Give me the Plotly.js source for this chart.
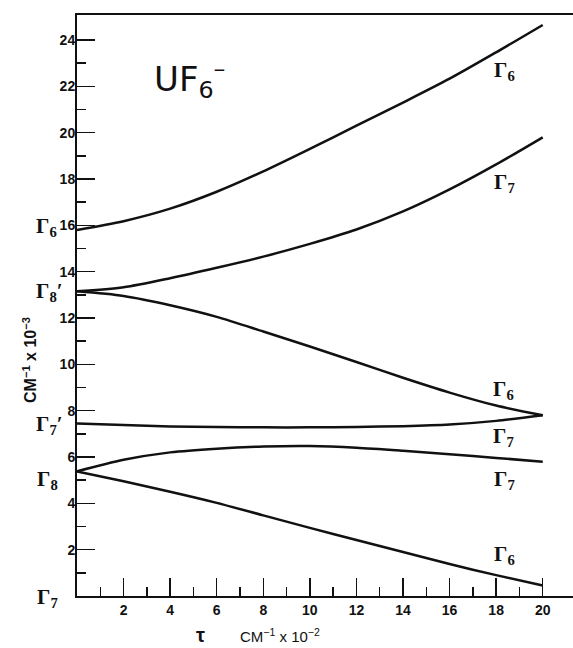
<!DOCTYPE html>
<html>
<head>
<meta charset="utf-8">
<script src="https://cdn.plot.ly/plotly-3.0.1.min.js"></script>
<style>
  html, body { margin: 0; padding: 0; background: #fff; }
  #plot { width: 573px; height: 648px; }
</style>
</head>
<body>
<div id="plot"></div>
<script>
// tau values (cm-1 x 10^-2)
const tau = [0, 2, 4, 6, 8, 10, 12, 14, 16, 18, 20];

// energy levels (cm-1 x 10^-3)
const g6Top   = [15.8, 16.18, 16.72, 17.45, 18.33, 19.3, 20.3, 21.3, 22.33, 23.47, 24.65];
const g7Upper = [13.15, 13.33, 13.72, 14.17, 14.65, 15.2, 15.82, 16.6, 17.55, 18.63, 19.8];
const g6Mid   = [13.15, 12.95, 12.55, 12.05, 11.42, 10.77, 10.1, 9.42, 8.78, 8.22, 7.8];
const g7Mid   = [7.45, 7.38, 7.32, 7.29, 7.28, 7.28, 7.3, 7.33, 7.4, 7.56, 7.8];
const g7Lower = [5.38, 5.88, 6.2, 6.36, 6.45, 6.47, 6.4, 6.27, 6.12, 5.96, 5.8];
const g6Low   = [5.38, 4.95, 4.5, 4.02, 3.48, 2.94, 2.42, 1.9, 1.38, 0.9, 0.45];

// level labels at the right end: [tau, energy, text]
const rightLabels = [
  [18.35, 22.66, 'Γ<sub>6</sub>'],
  [18.35, 17.82, 'Γ<sub>7</sub>'],
  [18.3, 8.9, 'Γ<sub>6</sub>'],
  [18.3, 6.86, 'Γ<sub>7</sub>'],
  [18.35, 5.0, 'Γ<sub>7</sub>'],
  [18.35, 1.77, 'Γ<sub>6</sub>']
];
// level labels left of the axis: [paper x, paper y, text]
const leftLabels = [
  [-0.062, 0.635, 'Γ<sub>6</sub>'],
  [-0.056, 0.523, 'Γ<sub>8</sub>′'],
  [-0.056, 0.295, 'Γ<sub>7</sub>′'],
  [-0.06, 0.2, 'Γ<sub>8</sub>'],
  [-0.06, -0.003, 'Γ<sub>7</sub>']
];

const series = [g6Top, g7Upper, g6Mid, g7Mid, g7Lower, g6Low];
const traces = series.map(ys => ({
  x: tau, y: ys, type: 'scatter', mode: 'lines',
  line: { color: '#111', width: 2.5, shape: 'spline', smoothing: 0.8 },
  cliponaxis: false, hoverinfo: 'skip'
}));

const gammaFont = { family: 'Liberation Serif', size: 21, color: '#111', weight: 'bold' };
const annotations = [];
rightLabels.forEach(([x, y, t]) => {
  annotations.push({ x: x, y: y, xref: 'x', yref: 'y', text: t, showarrow: false,
    xanchor: 'center', yanchor: 'middle', font: gammaFont });
});
leftLabels.forEach(([x, y, t]) => {
  annotations.push({ x: x, y: y, xref: 'paper', yref: 'paper', text: t, showarrow: false,
    xanchor: 'center', yanchor: 'middle', font: gammaFont });
});
annotations.push({
  x: 3.2, y: 22.3, xref: 'x', yref: 'y', showarrow: false, xanchor: 'left', yanchor: 'middle',
  text: 'UF<sub>6</sub><sup>–</sup>',
  font: { family: 'DejaVu Sans', size: 34, color: '#111' }
});
annotations.push({
  x: -0.095, y: 0.406, xref: 'paper', yref: 'paper', showarrow: false, textangle: -90,
  xanchor: 'center', yanchor: 'middle',
  text: 'CM<sup>−1</sup> x 10<sup>−3</sup>',
  font: { family: 'Liberation Sans', size: 16, color: '#111', weight: 'bold' }
});
annotations.push({
  x: 5.32, y: 0, xref: 'x', yref: 'paper', yshift: -39, showarrow: false,
  xanchor: 'center', yanchor: 'middle', text: 'τ',
  font: { family: 'Liberation Sans', size: 20, color: '#111', weight: 'bold' }
});
annotations.push({
  x: 6.9, y: 0, xref: 'x', yref: 'paper', yshift: -39, showarrow: false,
  xanchor: 'left', yanchor: 'middle',
  text: 'CM<sup>−1</sup> x 10<sup>−2</sup>',
  font: { family: 'Liberation Sans', size: 15, color: '#111' }
});

const layout = {
  width: 573, height: 648,
  margin: { l: 77, r: 0, t: 15, b: 52 },
  paper_bgcolor: '#fff', plot_bgcolor: '#fff',
  showlegend: false,
  xaxis: {
    range: [0, 21.3], tickvals: [2, 4, 6, 8, 10, 12, 14, 16, 18, 20],
    ticks: 'inside', ticklen: 18, tickwidth: 1.5, tickcolor: '#111',
    minor: { tickvals: [1, 3, 5, 7, 9, 11, 13, 15, 17, 19], ticks: 'inside', ticklen: 9, tickwidth: 1.5, tickcolor: '#111' },
    showline: true, linecolor: '#111', linewidth: 2, mirror: true,
    showgrid: false, zeroline: false,
    tickfont: { family: 'Liberation Sans', size: 14, color: '#111', weight: 'bold' }
  },
  yaxis: {
    range: [0, 25.08], tickvals: [2, 4, 6, 8, 10, 12, 14, 16, 18, 20, 22, 24],
    ticks: 'inside', ticklen: 18, tickwidth: 1.5, tickcolor: '#111',
    minor: { tickvals: [1, 3, 5, 7, 9, 11, 13, 15, 17, 19, 21, 23], ticks: 'inside', ticklen: 9, tickwidth: 1.5, tickcolor: '#111' },
    showline: true, linecolor: '#111', linewidth: 2,
    showgrid: false, zeroline: false, ticklabelstandoff: -3,
    tickfont: { family: 'Liberation Sans', size: 14, color: '#111', weight: 'bold' }
  },
  annotations: annotations
};

Plotly.newPlot('plot', traces, layout, { displayModeBar: false, staticPlot: true });
</script>
</body>
</html>
